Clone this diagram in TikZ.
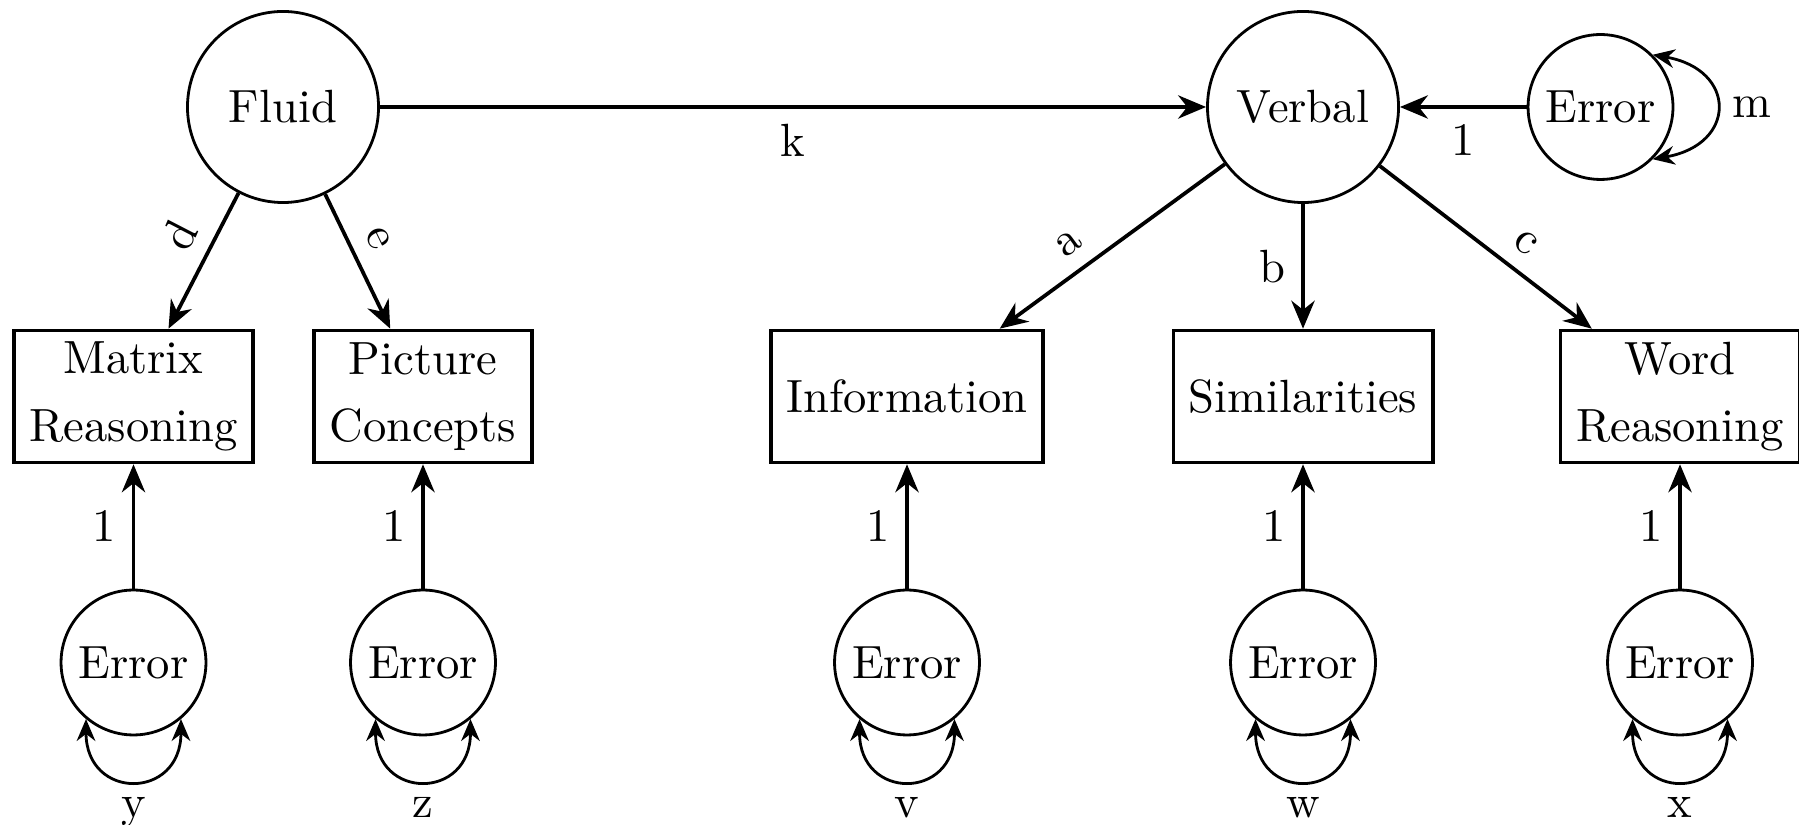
\documentclass[tikz,border=0pt]{standalone}
\usetikzlibrary{arrows.meta}
\begin{document}
\begin{tikzpicture}[x=0.2146pt,y=-0.2146pt,
  latent/.style={draw,circle,semithick,minimum size=41pt,inner sep=1pt},
  errnode/.style={draw,circle,semithick,minimum size=31.1pt,inner sep=1pt},
  obs/.style={draw,rectangle,thick,align=center,minimum height=28.3pt,inner ysep=2pt},
  regpath/.style={thick,-{Stealth[length=6pt,width=5pt]}},
  varpath/.style={semithick,{Stealth[length=4.7pt,width=4pt]}-{Stealth[length=4.7pt,width=4pt]}}
]
\useasboundingbox (0,0) rectangle (1799,825);

% latent variables
\node[latent] (fluid)  at (283,107)  {Fluid};
\node[latent] (verbal) at (1303,107) {Verbal};
\node[errnode] (em)    at (1600.5,107) {Error};

% observed variables
\node[obs] (mr)   at (133.5,396.5) {Matrix\\[2.5pt]Reasoning};
\node[obs] (pc)   at (423,396.5)   {Picture\\[2.5pt]Concepts};
\node[obs] (info) at (907,396.5)   {Information};
\node[obs] (sim)  at (1303,396.5)  {Similarities};
\node[obs] (wr)   at (1680,396.5)  {Word\\[2.5pt]Reasoning};

% error terms
\node[errnode] (ey) at (133.5,662.5) {Error};
\node[errnode] (ez) at (423,662.5)   {Error};
\node[errnode] (ev) at (907,662.5)   {Error};
\node[errnode] (ew) at (1303,662.5)  {Error};
\node[errnode] (ex) at (1680,662.5)  {Error};

% structural paths
\draw[regpath] (fluid) -- node[below] {k} (verbal);
\draw[regpath] (em) -- node[below] {1} (verbal);

% loadings
\draw[regpath] (fluid) -- node[pos=0.42,above,sloped] {d} (mr);
\draw[regpath] (fluid) -- node[pos=0.42,above,sloped] {e} (pc);
\draw[regpath] (verbal) -- node[pos=0.62,above,sloped] {a} (info);
\draw[regpath] (verbal) -- node[left] {b} (sim);
\draw[regpath] (verbal) -- node[pos=0.61,above,sloped] {c} (wr);

% error paths
\draw[regpath] (ey) -- node[left] {1} (mr);
\draw[regpath] (ez) -- node[left] {1} (pc);
\draw[regpath] (ev) -- node[left] {1} (info);
\draw[regpath] (ew) -- node[left] {1} (sim);
\draw[regpath] (ex) -- node[left] {1} (wr);

% variances
\draw[varpath] (em.45) to[out=-10,in=10,looseness=2.1] node[right] {m} (em.-45);
\draw[varpath] (ey.-130) to[out=-90,in=-90,looseness=2.2] node[below] {y} (ey.-50);
\draw[varpath] (ez.-130) to[out=-90,in=-90,looseness=2.2] node[below] {z} (ez.-50);
\draw[varpath] (ev.-130) to[out=-90,in=-90,looseness=2.2] node[below] {v} (ev.-50);
\draw[varpath] (ew.-130) to[out=-90,in=-90,looseness=2.2] node[below] {w} (ew.-50);
\draw[varpath] (ex.-130) to[out=-90,in=-90,looseness=2.2] node[below] {x} (ex.-50);
\end{tikzpicture}
\end{document}
